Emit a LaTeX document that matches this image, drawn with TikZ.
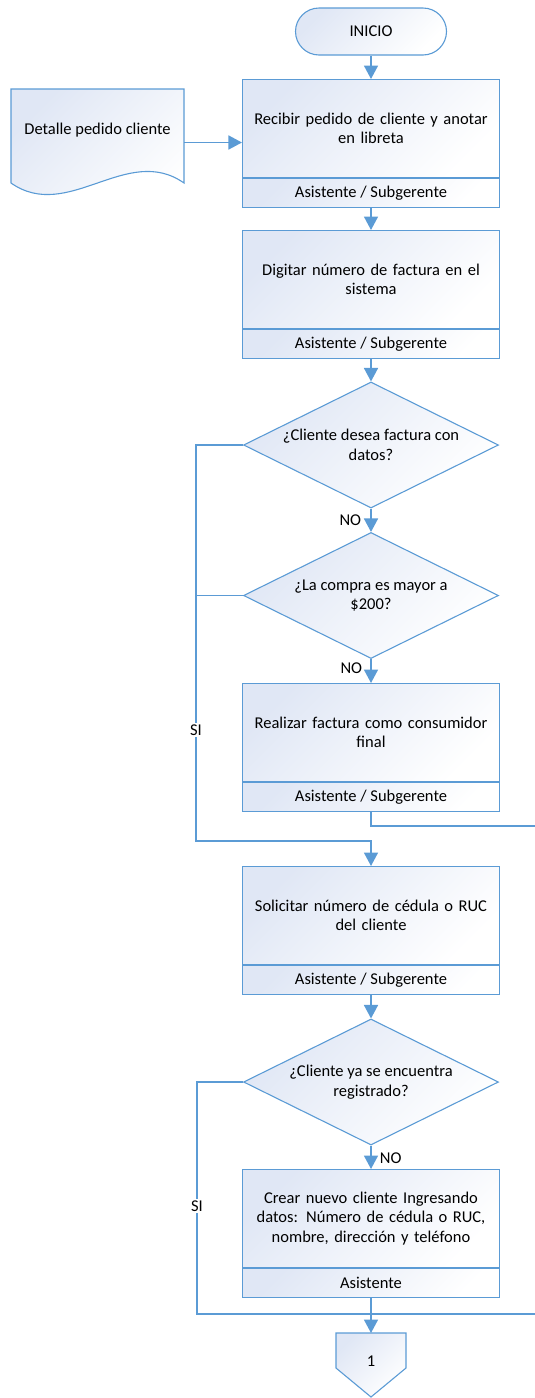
\documentclass[tikz,border=0pt]{standalone}
\usepackage{fontspec}
\setmainfont{Carlito}
\usetikzlibrary{arrows.meta,shapes.geometric}

\definecolor{edge}{RGB}{91,155,213}
\definecolor{tint}{RGB}{224,231,245}

\tikzset{
  every node/.style={font=\fontsize{16.5}{19.5}\selectfont},
  shadefill/.style={top color=tint, bottom color=white, shading angle=45},
  outline/.style={draw=edge, line width=1.1pt},
  task/.style={outline, shadefill, rectangle, minimum width=257pt, minimum height=98pt,
               text width=250pt, align=center, inner sep=0pt, anchor=north},
  role/.style={outline, shadefill, rectangle, minimum width=257pt, minimum height=29pt,
               inner sep=0pt, anchor=north},
  ask/.style={outline, shadefill, diamond, minimum width=255pt, minimum height=126pt, inner sep=0pt},
  flow/.style={draw=edge, line width=1.7pt},
  arr/.style={flow, -{Triangle[width=14pt,length=13.5pt]}},
  tag/.style={inner sep=0pt},
}

\begin{document}
\begin{tikzpicture}[x=1pt, y=-1pt]
  \useasboundingbox (0,0) rectangle (535,1398);

  % start terminator
  \node[outline, shadefill, rectangle, rounded corners=23.5pt, minimum width=151pt,
        minimum height=47pt] (ini) at (371,31.5) {INICIO};

  % document symbol
  \path[outline, shadefill] (11,89) -- (184,89) -- (184,183)
        .. controls (127,143) and (68,223) .. (11,183) -- cycle;
  \node[minimum width=173pt, minimum height=107pt, inner sep=0pt,
        label={[yshift=12.5pt]center:Detalle pedido cliente}] (doc) at (97.5,142.5) {};

  % process boxes with role strips
  \node[task] (b1) at (371,79) {Recibir pedido de cliente y anotar\\en libreta};
  \node[role] (r1) at (b1.south) {Asistente / Subgerente};

  \node[task] (b2) at (371,230) {Digitar número de factura en el\\sistema};
  \node[role] (r2) at (b2.south) {Asistente / Subgerente};

  \node[ask, label={[align=center]center:{¿Cliente desea factura con\\datos?}}] (d1) at (371,445) {};
  \node[ask, label={[align=center]center:{¿La compra es mayor a\\\$200?}}] (d2) at (371,595.5) {};

  \node[task] (b3) at (371,683) {Realizar factura como consumidor\\final};
  \node[role] (r3) at (b3.south) {Asistente / Subgerente};

  \node[task] (b4) at (371,866) {Solicitar número de cédula o RUC\\del cliente};
  \node[role] (r4) at (b4.south) {Asistente / Subgerente};

  \node[ask, label={[align=center]center:{¿Cliente ya se encuentra\\registrado?}}] (d3) at (371,1082) {};

  \node[task] (b5) at (371,1169) {Crear nuevo cliente Ingresando\\datos: Número de cédula o RUC,\\nombre, dirección y teléfono};
  \node[role] (r5) at (b5.south) {Asistente};

  % off-page connector
  \path[outline, shadefill] (336,1333) -- (406,1333) -- (406,1368) -- (371,1397) -- (336,1368) -- cycle;
  \node (c1) at (371,1361) {1};
  \coordinate (c1top) at (371,1333);

  % junction points
  \coordinate (bus1) at (196,841);
  \coordinate (bus2) at (197,1314);
  \coordinate (out1) at (535,826);
  \coordinate (out2) at (535,1314);

  % connectors
  \draw[arr] (ini) -- (b1);
  \draw[arr] (doc.east) -- (doc.east -| b1.west);
  \draw[arr] (r1) -- (b2);
  \draw[arr] (r2) -- (d1);
  \draw[arr] (d1) -- node[tag, left=9pt, pos=0.5] {NO} (d2);
  \draw[arr] (d2) -- node[tag, left=8pt, pos=0.4] {NO} (b3);
  \draw[arr] (d1.west) -| (bus1) -| (b4.north);
  \draw[flow] (d2.west) -- (d2.west -| bus1);
  \draw[flow] (r3.south) |- (out1);
  \draw[arr] (r4) -- (d3);
  \draw[arr] (d3) -- node[tag, right=8pt, pos=0.55] {NO} (b5);
  \draw[flow] (d3.west) -| (bus2) -- (out2);
  \draw[arr] (r5) -- (c1top);

  % branch labels on the left bus
  \node[tag, fill=white, inner ysep=2pt] (si1) at (196,730) {SI};
  \node[tag, fill=white, inner ysep=2pt] (si2) at (197,1206) {SI};
\end{tikzpicture}
\end{document}
